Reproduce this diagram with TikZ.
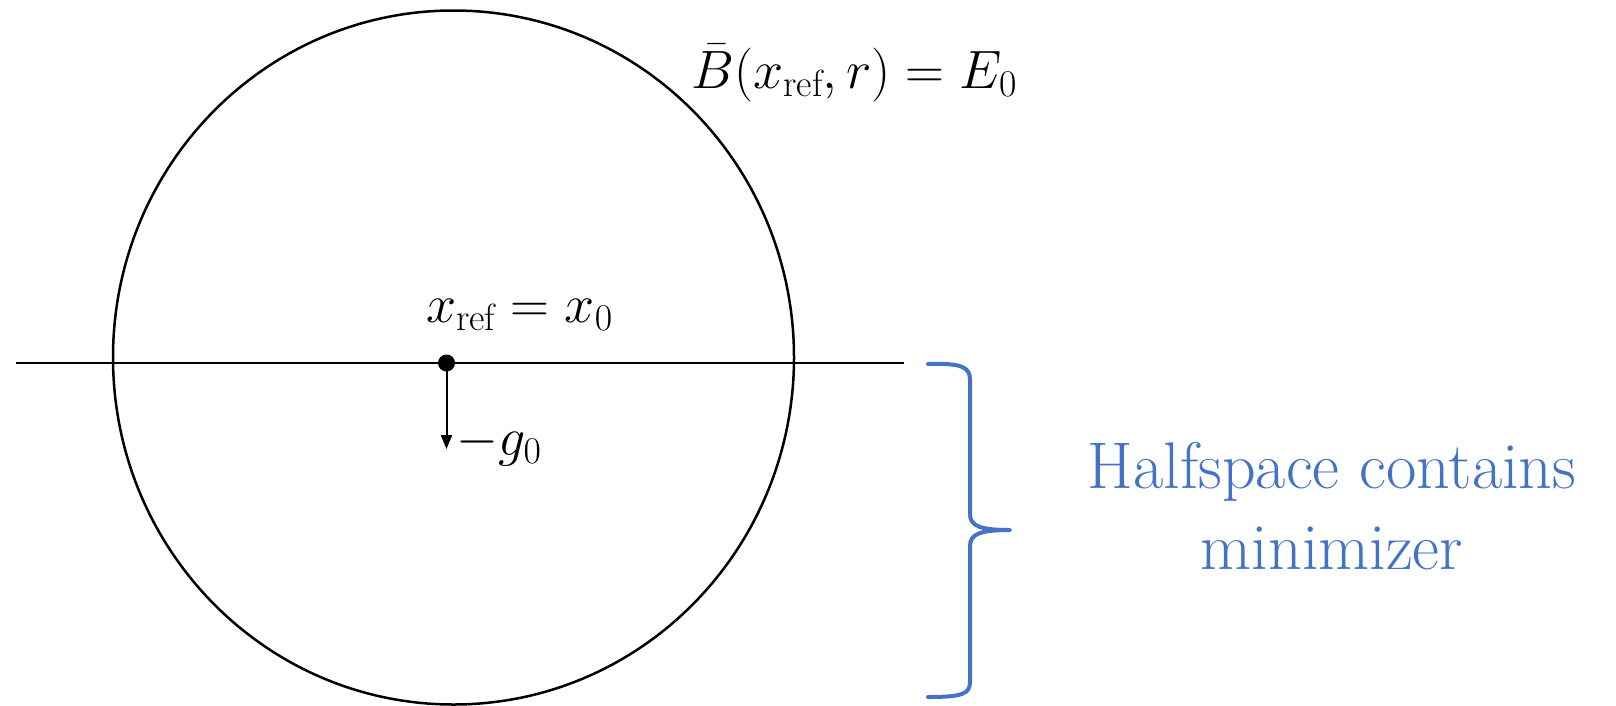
\RequirePackage{fix-cm}
\documentclass[tikz,border=0pt]{standalone}
\usepackage{fontspec}
\usetikzlibrary{arrows.meta}
\definecolor{wordblue}{HTML}{4472C4}
\tikzset{
  mathlbl/.style={inner sep=0pt, anchor=base west, font=\fontsize{54}{60}\selectfont},
  bluelbl/.style={inner sep=0pt, anchor=base, text=wordblue, font=\fontsize{66}{81}\selectfont},
  thinline/.style={line width=2.5pt, black},
  bracestyle/.style={line width=4pt, wordblue, line cap=round, line join=round}
}
\begin{document}
\begin{tikzpicture}[x=1pt,y=-1pt]
\useasboundingbox (0,0) rectangle (1616,705);
% ball
\draw[thinline] (453.5,357.5) ellipse [x radius=340.5pt, y radius=347pt];
% hyperplane
\coordinate (L) at (16,363);
\coordinate (R) at (904,363);
\draw[line width=2.7pt] (L) -- (R);
% center point
\node[circle, fill=black, inner sep=0pt, minimum size=17pt] (dot) at (446.5,363) {};
\coordinate (tip) at (446.5,449);
\draw[line width=2pt, -{Triangle[length=14pt,width=11pt]}] (dot.center) -- (tip);
% labels
\node[mathlbl] (xref) at (426,322) {$x_{\mathrm{ref}}=x_0$};
\node[mathlbl] (ball) at (691,88) {$\bar{B}(x_{\mathrm{ref}},r)=E_0$};
\node[mathlbl] (grad) at (456,455) {$-g_0$};
% brace
\draw[bracestyle] (928,364) .. controls (962,363) and (970,367) .. (970,380)
  -- (970,514) .. controls (970,526) and (980,530) .. (1010,530)
  .. controls (980,530) and (970,534) .. (970,546)
  -- (970,682) .. controls (970,694) and (962,697) .. (928,697);
\node[bluelbl] (hs1) at (1332,488.5) {Halfspace contains};
\node[bluelbl] (hs2) at (1332,569.5) {minimizer};
\end{tikzpicture}
\end{document}
